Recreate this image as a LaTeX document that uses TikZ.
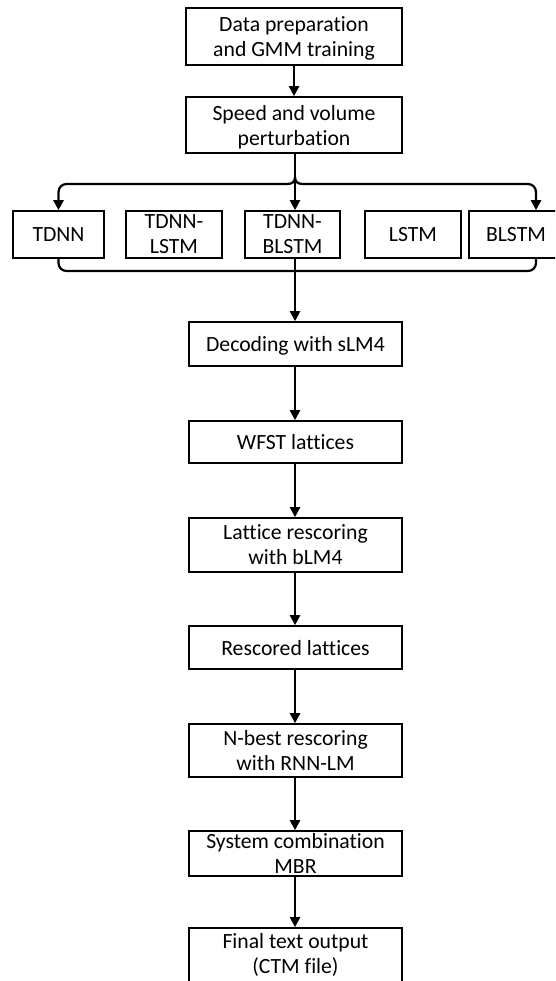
\documentclass[tikz,border=0pt]{standalone}
\usepackage{fontspec}
\setmainfont{Carlito}[Ligatures={NoCommon}]
\usetikzlibrary{arrows.meta}
\begin{document}
\begin{tikzpicture}[x=1pt,y=-1pt,
  box/.style={draw=black, line width=1.6pt, rectangle, inner sep=0pt, align=center,
    text depth=0pt, font=\fontsize{21.7}{25}\selectfont},
  link/.style={line width=2.2pt, draw=black},
  arr/.style={link, -{Triangle[length=10pt,width=10pt]}}]
\useasboundingbox (0,0) rectangle (555,981);
\clip (0,0) rectangle (555,981);
\fill[white] (0,0) rectangle (555,981);

% column through which the main connectors run
\coordinate (col) at (295,0);
\coordinate (rcol) at (536,0);

% preparation stages
\node[box, minimum width=216, minimum height=57] (prep) at (294,36.5) {Data preparation\\and GMM training};
\node[box, minimum width=216, minimum height=56] (perturb) at (294,125) {Speed and volume\\perturbation};

% acoustic models
\node[box, minimum width=91, minimum height=47] (tdnn)  at (58.5,234.5) {TDNN};
\node[box, minimum width=96, minimum height=47] (tlstm) at (174,234.5) {TDNN-\\LSTM};
\node[box, minimum width=95, minimum height=47] (tblstm) at (292.5,234.5) {TDNN-\\BLSTM};
\node[box, minimum width=96, minimum height=47] (lstm)  at (413,234.5) {LSTM};
\node[box, minimum width=94, minimum height=47] (blstm) at (516,234.5) {BLSTM};

% decoding and rescoring chain
\node[box, minimum width=213, minimum height=44] (dec)   at (295.5,344) {Decoding with sLM4};
\node[box, minimum width=213, minimum height=42] (wfst)  at (295.5,442) {WFST lattices};
\node[box, minimum width=213, minimum height=54] (latr)  at (295.5,545) {Lattice rescoring\\with bLM4};
\node[box, minimum width=213, minimum height=43] (resc)  at (295.5,647.5) {Rescored lattices};
\node[box, minimum width=213, minimum height=53] (nbest) at (295.5,750.5) {N-best rescoring\\with RNN-LM};
\node[box, minimum width=213, minimum height=45] (comb)  at (295.5,853.5) {System combination\\MBR};
\node[box, minimum width=213, minimum height=72] (final) at (295.5,964) {};
\node[font=\fontsize{21.7}{25}\selectfont, align=center, inner sep=0pt, text depth=0pt] (finaltxt) at (295.5,953.5) {Final text output\\(CTM file)};

% top stage connectors
\draw[arr] (prep) -- (perturb);

% fan-out bracket
\coordinate (tl) at (287,184);
\coordinate (tr) at (303,184);
\draw[arr, rounded corners=8] (tl) -- (tdnn.north |- tl) -- (tdnn.north);
\draw[arr, rounded corners=8] (tr) -- (rcol |- tr) -- (rcol |- blstm.north);
\draw[link] (tl) .. controls (292,184) and (295,182) .. (295,177);
\draw[link] (tr) .. controls (298,184) and (295,182) .. (295,177);
\draw[arr] (perturb.south -| col) -- (tblstm.north -| col);

% fan-in bracket
\coordinate (bm) at (295,271);
\draw[link, rounded corners=8] (tdnn.south) -- (tdnn.south |- bm) -- (rcol |- bm) -- (rcol |- blstm.south);
\draw[arr] (tblstm.south -| col) -- (dec.north -| col);

% lower chain
\draw[arr] (dec.south -| col) -- (wfst.north -| col);
\draw[arr] (wfst.south -| col) -- (latr.north -| col);
\draw[arr] (latr.south -| col) -- (resc.north -| col);
\draw[arr] (resc.south -| col) -- (nbest.north -| col);
\draw[arr] (nbest.south -| col) -- (comb.north -| col);
\draw[arr] (comb.south -| col) -- (final.north -| col);
\end{tikzpicture}
\end{document}
